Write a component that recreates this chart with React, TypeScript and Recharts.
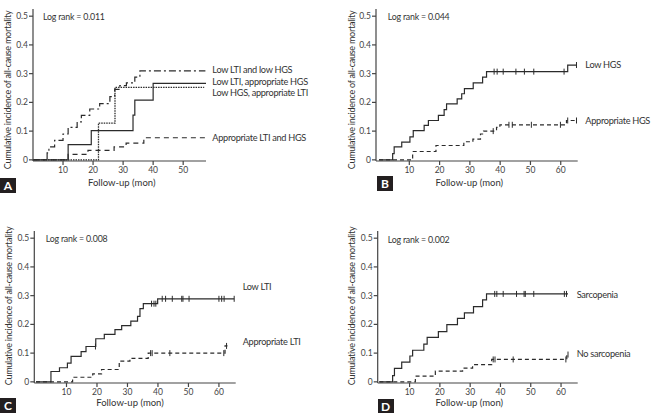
import { ComposedChart, Line, Scatter, XAxis, YAxis } from 'recharts';

// Panel A: Low LTI / low HGS combinations
const aLowBothT = [0, 4.7, 5.3, 7.2, 10, 11.7, 14.7, 16.1, 18.9, 22.2, 25.6, 27.2, 28.9, 31.1, 33.9, 35.6, 57.4];
const aLowBothV = [0, 0.024, 0.045, 0.068, 0.09, 0.113, 0.132, 0.155, 0.177, 0.196, 0.22, 0.245, 0.258, 0.268, 0.288, 0.31, 0.31];
const aLowLtiT = [0, 11.7, 19.4, 33.3, 33.9, 40, 57.6];
const aLowLtiV = [0, 0.053, 0.102, 0.156, 0.208, 0.266, 0.266];
const aLowHgsT = [0, 21.8, 27.3, 57];
const aLowHgsV = [0, 0.128, 0.252, 0.252];
const aApprT = [0, 11.7, 18.3, 27, 31, 36.9, 57.6];
const aApprV = [0, 0.019, 0.033, 0.045, 0.058, 0.077, 0.077];

// Panel B: HGS
const bLowT = [0, 4.5, 5, 7.5, 10.2, 11.3, 14.9, 16.3, 19.6, 21.5, 22.3, 25.8, 27.3, 28.2, 31.1, 34.2, 35.5, 62.3, 65.2];
const bLowV = [0, 0.022, 0.045, 0.062, 0.08, 0.102, 0.12, 0.137, 0.155, 0.175, 0.195, 0.212, 0.23, 0.248, 0.268, 0.288, 0.307, 0.33, 0.33];
const bLowCens = [38, 39, 41, 45.2, 48, 51.1, 61.1, 65.2];
const bApprT = [0, 11.1, 18.8, 28, 31, 33.5, 34.5, 38.8, 39.9, 61.9, 65.2];
const bApprV = [0, 0.029, 0.05, 0.063, 0.072, 0.09, 0.1, 0.113, 0.122, 0.137, 0.137];
const bApprCens = [37.7, 42.9, 44, 50.3, 59.9, 62.3, 65.2];

// Panel C: LTI
const cLowT = [0, 4.9, 7.7, 10.3, 11.5, 14.8, 16.4, 19.6, 22.4, 25.9, 28.1, 31.1, 33.3, 34.1, 35.2, 39.9, 65];
const cLowV = [0, 0.036, 0.049, 0.065, 0.089, 0.105, 0.123, 0.15, 0.165, 0.182, 0.196, 0.211, 0.228, 0.255, 0.272, 0.289, 0.289];
const cLowCens = [19.5, 37.9, 38.7, 39.3, 41.4, 42.5, 44.7, 47.8, 48.2, 50.2, 60, 60.9, 61.7, 65];
const cApprT = [0, 12, 18.6, 21.5, 27.3, 30.8, 36.8, 62, 62.8];
const cApprV = [0, 0.016, 0.028, 0.043, 0.072, 0.082, 0.1, 0.125, 0.125];
const cApprCens = [37.6, 38.1, 43.9, 61.6, 62.5];

// Panel D: sarcopenia
const dSarcT = [0, 4.4, 5, 7.4, 10.1, 11, 14.7, 15.8, 19.5, 22.3, 25.8, 28.1, 31.1, 34.1, 35.4, 62.3];
const dSarcV = [0, 0.022, 0.047, 0.069, 0.09, 0.11, 0.131, 0.155, 0.175, 0.199, 0.221, 0.24, 0.262, 0.285, 0.306, 0.306];
const dSarcCens = [38.1, 38.8, 40.9, 45.3, 47.8, 48.2, 51, 61.1, 61.8];
const dNoT = [0, 11.9, 18.5, 27.5, 30.8, 37.1, 61.9, 62.6];
const dNoV = [0, 0.02, 0.037, 0.048, 0.06, 0.078, 0.095, 0.095];
const dNoCens = [37.6, 38.2, 44.2, 61.6, 62.3];

const yTicks = [0, 0.1, 0.2, 0.3, 0.4, 0.5];
const xTicksA = [10, 20, 30, 40, 50];
const xTicksB = [10, 20, 30, 40, 50, 60];

const INK = '#2b2b2b';
const FONT = 'Lato, "Open Sans", sans-serif';

const steps = (t: number[], v: number[]) => t.map((x, i) => ({ t: x, v: v[i] }));
const valueAt = (t: number[], v: number[], c: number) => {
  let r = v[0];
  t.forEach((x, i) => {
    if (x <= c) r = v[i];
  });
  return r;
};
const marks = (t: number[], v: number[], cs: number[]) => cs.map((c) => ({ t: c, v: valueAt(t, v, c) }));

type Series = { t: number[]; v: number[]; cens?: number[]; dash?: string; width?: number };

const CensorMark = (props: any) => {
  const { cx, cy } = props;
  if (cx == null || cy == null) return null;
  return <line x1={cx} x2={cx} y1={cy - 3} y2={cy + 3} stroke={INK} strokeWidth={1} />;
};

function KmPanel({ left, top, width, height, yAxisWidth, marginRight, marginBottom, xDomain, xTicks, series }: {
  left: number; top: number; width: number; height: number; yAxisWidth: number; marginRight: number;
  marginBottom: number; xDomain: [number, number]; xTicks: number[]; series: Series[];
}) {
  return (
    <div style={{ position: 'absolute', left, top }}>
      <ComposedChart width={width} height={height} margin={{ top: 9, right: marginRight, bottom: marginBottom, left: 0 }}>
        <XAxis
          type="number"
          dataKey="t"
          domain={xDomain}
          ticks={xTicks}
          allowDataOverflow
          height={20}
          tickSize={4}
          tickMargin={2}
          stroke="#444"
          strokeWidth={1.2}
          tick={{ fill: '#444', fontSize: 8.5, fontFamily: FONT }}
        />
        <YAxis
          type="number"
          dataKey="v"
          domain={[-0.004, 0.525]}
          ticks={yTicks}
          allowDataOverflow
          width={yAxisWidth}
          tickSize={4}
          tickMargin={1}
          stroke="#444"
          strokeWidth={1.2}
          tickFormatter={(v: number) => (v === 0 ? '0' : v.toFixed(1))}
          tick={{ fill: '#444', fontSize: 8.5, fontFamily: FONT }}
        />
        {series.map((s, i) => (
          <Line
            key={`l${i}`}
            data={steps(s.t, s.v)}
            dataKey="v"
            type="stepAfter"
            stroke={INK}
            strokeWidth={s.width ?? 1.2}
            strokeDasharray={s.dash}
            dot={false}
            activeDot={false}
            isAnimationActive={false}
          />
        ))}
        {series
          .filter((s) => s.cens)
          .map((s, i) => (
            <Scatter
              key={`c${i}`}
              data={marks(s.t, s.v, s.cens as number[])}
              dataKey="v"
              shape={CensorMark}
              isAnimationActive={false}
            />
          ))}
      </ComposedChart>
    </div>
  );
}

const txt: React.CSSProperties = {
  position: 'absolute',
  fontFamily: FONT,
  color: '#333',
  whiteSpace: 'nowrap',
  lineHeight: 1,
};

function SideLabel({ x, y, children }: { x: number; y: number; children: React.ReactNode }) {
  return (
    <div style={{ ...txt, left: x, top: y, fontSize: 9.2, letterSpacing: -0.3, transform: 'translateY(-50%)' }}>
      {children}
    </div>
  );
}

function LogRank({ x, y, p }: { x: number; y: number; p: string }) {
  return (
    <div style={{ ...txt, left: x, top: y, fontSize: 8.8, letterSpacing: -0.2, transform: 'translateY(-50%)' }}>
      Log rank = {p}
    </div>
  );
}

function YTitle({ x, y }: { x: number; y: number }) {
  return (
    <div style={{ ...txt, left: x, top: y, fontSize: 9, letterSpacing: -0.25, transform: 'translate(-50%,-50%) rotate(-90deg)' }}>
      Cumulative incidence of all-cause mortality
    </div>
  );
}

function XTitle({ x, y }: { x: number; y: number }) {
  return <div style={{ ...txt, left: x, top: y, fontSize: 9.5, transform: 'translate(-50%,-50%)' }}>Follow-up (mon)</div>;
}

function Letter({ x, y, ch }: { x: number; y: number; ch: string }) {
  return (
    <div
      style={{
        position: 'absolute', left: x, top: y, width: 16, height: 15, background: '#231f20', color: '#fff',
        fontFamily: FONT, fontWeight: 700, fontSize: 12, lineHeight: '15px', textAlign: 'center',
      }}
    >
      {ch}
    </div>
  );
}

export default function App() {
  return (
    <div style={{ position: 'fixed', left: 0, top: 0, width: 652, height: 413, background: '#fff', overflow: 'hidden' }}>
      <KmPanel
        left={0} top={0} width={326} height={206} yAxisWidth={33} marginRight={120} marginBottom={25}
        xDomain={[0, 57.6]} xTicks={xTicksA}
        series={[
          { t: aLowBothT, v: aLowBothV, dash: '7 3 2 3' },
          { t: aLowLtiT, v: aLowLtiV },
          { t: aLowHgsT, v: aLowHgsV, dash: '1.5 1', width: 1.3 },
          { t: aApprT, v: aApprV, dash: '5 4' },
        ]}
      />
      <KmPanel
        left={326} top={0} width={326} height={206} yAxisWidth={50} marginRight={74.3} marginBottom={25}
        xDomain={[-1, 65.6]} xTicks={xTicksB}
        series={[
          { t: bLowT, v: bLowV, cens: bLowCens },
          { t: bApprT, v: bApprV, cens: bApprCens, dash: '4 3' },
        ]}
      />
      <KmPanel
        left={0} top={222} width={326} height={191} yAxisWidth={34.3} marginRight={90.3} marginBottom={10}
        xDomain={[-0.56, 65.5]} xTicks={xTicksB}
        series={[
          { t: cLowT, v: cLowV, cens: cLowCens },
          { t: cApprT, v: cApprV, cens: cApprCens, dash: '4 3' },
        ]}
      />
      <KmPanel
        left={326} top={222} width={326} height={191} yAxisWidth={51.7} marginRight={74.3} marginBottom={10}
        xDomain={[-0.53, 65.5]} xTicks={xTicksB}
        series={[
          { t: dSarcT, v: dSarcV, cens: dSarcCens },
          { t: dNoT, v: dNoV, cens: dNoCens, dash: '4 3' },
        ]}
      />

      <YTitle x={7} y={90} />
      <YTitle x={351} y={90} />
      <YTitle x={8.3} y={306} />
      <YTitle x={351} y={306} />

      <LogRank x={43} y={17} p="0.011" />
      <LogRank x={387.7} y={17} p="0.044" />
      <LogRank x={45.7} y={239.3} p="0.008" />
      <LogRank x={387.7} y={239.7} p="0.002" />

      <XTitle x={121.7} y={182.7} />
      <XTitle x={469.3} y={182.7} />
      <XTitle x={130} y={403.3} />
      <XTitle x={469.3} y={402.7} />

      <Letter x={0} y={178} ch="A" />
      <Letter x={377} y={176} ch="B" />
      <Letter x={0} y={398} ch="C" />
      <Letter x={377.7} y={398.5} ch="D" />

      <SideLabel x={212.3} y={70}>Low LTI and low HGS</SideLabel>
      <SideLabel x={212.3} y={81.7}>Low LTI, appropriate HGS</SideLabel>
      <SideLabel x={212.3} y={93.3}>Low HGS, appropriate LTI</SideLabel>
      <SideLabel x={212.3} y={138.3}>Appropriate LTI and HGS</SideLabel>
      <SideLabel x={585.3} y={65}>Low HGS</SideLabel>
      <SideLabel x={585.3} y={120.7}>Appropriate HGS</SideLabel>
      <SideLabel x={242.7} y={287}>Low LTI</SideLabel>
      <SideLabel x={242.7} y={342}>Appropriate LTI</SideLabel>
      <SideLabel x={576.7} y={295.3}>Sarcopenia</SideLabel>
      <SideLabel x={576.7} y={354.3}>No sarcopenia</SideLabel>
    </div>
  );
}
